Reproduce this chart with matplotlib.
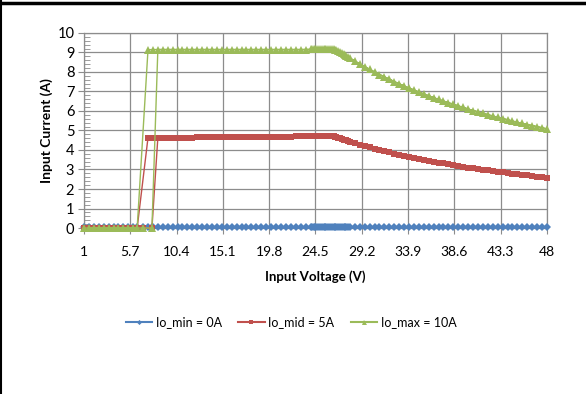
import matplotlib.pyplot as plt
from matplotlib.ticker import MultipleLocator, FixedLocator
from matplotlib.lines import Line2D

plt.rcParams['font.family'] = ['Lato', 'DejaVu Sans']

# --- DATA ---
# rising sweep of input voltage
vin_up = [1.0, 2.0, 3.0, 4.0, 5.0, 6.0, 7.0, 7.9,
          8.5, 9.5, 10.5, 11.5, 12.5, 13.5, 14.5, 15.5,
          16.5, 17.5, 18.5, 19.5, 20.5, 21.5, 22.5, 23.5,
          24.0, 24.2, 24.4, 24.6, 24.8, 25.0, 25.2, 25.4, 25.6, 25.8,
          26.0, 26.2, 26.4, 26.6, 26.8, 27.0, 27.2, 27.4, 27.6, 27.8, 28.0,
          29.0, 30.0, 31.0, 32.0, 33.0, 34.0, 35.0, 36.0, 37.0, 38.0,
          39.0, 40.0, 41.0, 42.0, 43.0, 44.0, 45.0, 46.0, 47.0, 48.0]
# falling sweep of input voltage
vin_dn = [47.5, 46.5, 45.5, 44.5, 43.5, 42.5, 41.5, 40.5, 39.5, 38.5,
          37.5, 36.5, 35.5, 34.5, 33.5, 32.5, 31.5, 30.5, 29.5, 28.5,
          27.5, 26.5, 25.5, 24.5,
          23.0, 22.0, 21.0, 20.0, 19.0, 18.0, 17.0, 16.0,
          15.0, 14.0, 13.0, 12.0, 11.0, 10.0, 9.0, 8.0,
          7.5, 6.4, 5.5, 4.5, 3.5, 2.5, 1.5]

iin_min_up = [0.07, 0.07, 0.07, 0.07, 0.07, 0.07, 0.07, 0.07,
              0.07, 0.07, 0.07, 0.07, 0.07, 0.07, 0.07, 0.07,
              0.07, 0.07, 0.07, 0.07, 0.07, 0.07, 0.07, 0.07,
              0.07, 0.07, 0.07, 0.07, 0.07, 0.07, 0.07, 0.07, 0.07, 0.07,
              0.07, 0.07, 0.07, 0.07, 0.07, 0.07, 0.07, 0.07, 0.07, 0.07, 0.07,
              0.07, 0.07, 0.07, 0.07, 0.07, 0.07, 0.07, 0.07, 0.07, 0.07,
              0.07, 0.07, 0.07, 0.07, 0.07, 0.07, 0.07, 0.07, 0.07, 0.07]
iin_min_dn = [0.07, 0.07, 0.07, 0.07, 0.07, 0.07, 0.07, 0.07, 0.07, 0.07,
              0.07, 0.07, 0.07, 0.07, 0.07, 0.07, 0.07, 0.07, 0.07, 0.07,
              0.07, 0.07, 0.07, 0.07,
              0.07, 0.07, 0.07, 0.07, 0.07, 0.07, 0.07, 0.07,
              0.07, 0.07, 0.07, 0.07, 0.07, 0.07, 0.07, 0.07,
              0.07, 0.07, 0.07, 0.07, 0.07, 0.07, 0.07]

iin_mid_up = [0.0, 0.0, 0.0, 0.0, 0.0, 0.0, 0.0, 0.0,
              4.63, 4.63, 4.64, 4.64, 4.65, 4.65, 4.66, 4.66,
              4.67, 4.67, 4.68, 4.68, 4.69, 4.69, 4.70, 4.70,
              4.71, 4.71, 4.71, 4.71, 4.71, 4.71, 4.71, 4.71, 4.71, 4.71,
              4.71, 4.71, 4.70, 4.66, 4.63, 4.59, 4.56, 4.53, 4.49, 4.46, 4.43,
              4.28, 4.13, 4.00, 3.88, 3.76, 3.65, 3.54, 3.44, 3.35, 3.26,
              3.18, 3.10, 3.02, 2.95, 2.88, 2.82, 2.76, 2.70, 2.64, 2.58]
iin_mid_dn = [2.61, 2.67, 2.73, 2.79, 2.85, 2.92, 2.99, 3.06, 3.14, 3.22,
              3.31, 3.40, 3.49, 3.59, 3.70, 3.82, 3.94, 4.07, 4.20, 4.35,
              4.51, 4.68, 4.71, 4.71,
              4.70, 4.69, 4.69, 4.68, 4.68, 4.67, 4.67, 4.66,
              4.66, 4.65, 4.65, 4.64, 4.64, 4.63, 4.63, 4.63,
              4.63, 0.0, 0.0, 0.0, 0.0, 0.0, 0.0]

iin_max_up = [0.0, 0.0, 0.0, 0.0, 0.0, 0.0, 0.0, 0.0,
              9.15, 9.15, 9.15, 9.15, 9.15, 9.15, 9.15, 9.15,
              9.15, 9.15, 9.15, 9.15, 9.15, 9.15, 9.15, 9.15,
              9.16, 9.16, 9.16, 9.16, 9.16, 9.16, 9.16, 9.16, 9.16, 9.16,
              9.16, 9.16, 9.16, 9.15, 9.10, 9.04, 8.97, 8.91, 8.84, 8.78, 8.71,
              8.41, 8.13, 7.87, 7.63, 7.39, 7.18, 6.97, 6.78, 6.59, 6.42,
              6.26, 6.10, 5.95, 5.81, 5.67, 5.55, 5.42, 5.30, 5.19, 5.08]
iin_max_dn = [5.14, 5.25, 5.36, 5.48, 5.61, 5.74, 5.88, 6.02, 6.18, 6.34,
              6.51, 6.68, 6.87, 7.07, 7.28, 7.51, 7.75, 8.00, 8.27, 8.56,
              8.87, 9.15, 9.16, 9.16,
              9.15, 9.15, 9.15, 9.15, 9.15, 9.15, 9.15, 9.15,
              9.15, 9.15, 9.15, 9.15, 9.15, 9.15, 9.15, 9.15,
              9.14, 0.0, 0.0, 0.0, 0.0, 0.0, 0.0]

x_ticks = [1, 5.7, 10.4, 15.1, 19.8, 24.5, 29.2, 33.9, 38.6, 43.3, 48]

series = [
    ("Io_min = 0A", iin_min_up, iin_min_dn, "#4F81BD", "D", 4.2),
    ("Io_mid = 5A", iin_mid_up, iin_mid_dn, "#C0504D", "s", 4.2),
    ("Io_max = 10A", iin_max_up, iin_max_dn, "#9BBB59", "^", 5.2),
]

fig = plt.figure(figsize=(5.86, 3.94), dpi=100)
ax = fig.add_axes([0.1433, 0.4213, 0.790, 0.495])

handles = []
for label, up, dn, col, mk, ms in series:
    ax.plot(vin_up + vin_dn, up + dn, color=col, lw=1.0, marker=mk,
            markersize=ms, markeredgewidth=0, zorder=3, clip_on=False)
    handles.append(Line2D([], [], color=col, lw=1.5, marker=mk,
                          markersize=ms - 1.6, markeredgewidth=0))

ax.set_xlim(1, 48)
ax.set_ylim(0, 10)
ax.xaxis.set_major_locator(FixedLocator(x_ticks))
ax.set_xticklabels([f"{t:g}" for t in x_ticks])
ax.yaxis.set_major_locator(MultipleLocator(1))
ax.yaxis.set_minor_locator(MultipleLocator(0.2))

ax.grid(True, which='major', color='#8C8C8C', lw=0.9)
ax.set_axisbelow(True)
for s in ['top', 'right', 'left', 'bottom']:
    ax.spines[s].set_color('#8C8C8C')
    ax.spines[s].set_linewidth(0.9)

ax.tick_params(axis='y', which='major', direction='out', length=4,
               color='#8C8C8C', labelsize=10.5, pad=3)
ax.tick_params(axis='y', which='minor', direction='in', length=4,
               color='#8C8C8C')
ax.tick_params(axis='x', which='major', direction='out', length=4,
               color='#8C8C8C', labelsize=10, pad=9)

ax.set_xlabel("Input Voltage (V)", fontsize=9.5, fontweight='bold', labelpad=9)
ax.set_ylabel("Input Current (A)", fontsize=10, fontweight='bold', labelpad=3)

fig.legend(handles=handles, labels=[s[0] for s in series],
           loc='center', bbox_to_anchor=(0.497, 0.183), ncol=3, frameon=False,
           fontsize=9, handlelength=2.1, columnspacing=1.3, handletextpad=0.3)

# outer frame remnants (top and left edges)
fig.add_artist(Line2D([0, 1], [0.993, 0.993], color='black', lw=2.5,
                      transform=fig.transFigure))
fig.add_artist(Line2D([0.002, 0.002], [0, 1], color='black', lw=1.5,
                      transform=fig.transFigure))

fig.savefig("out.png", dpi=100)
